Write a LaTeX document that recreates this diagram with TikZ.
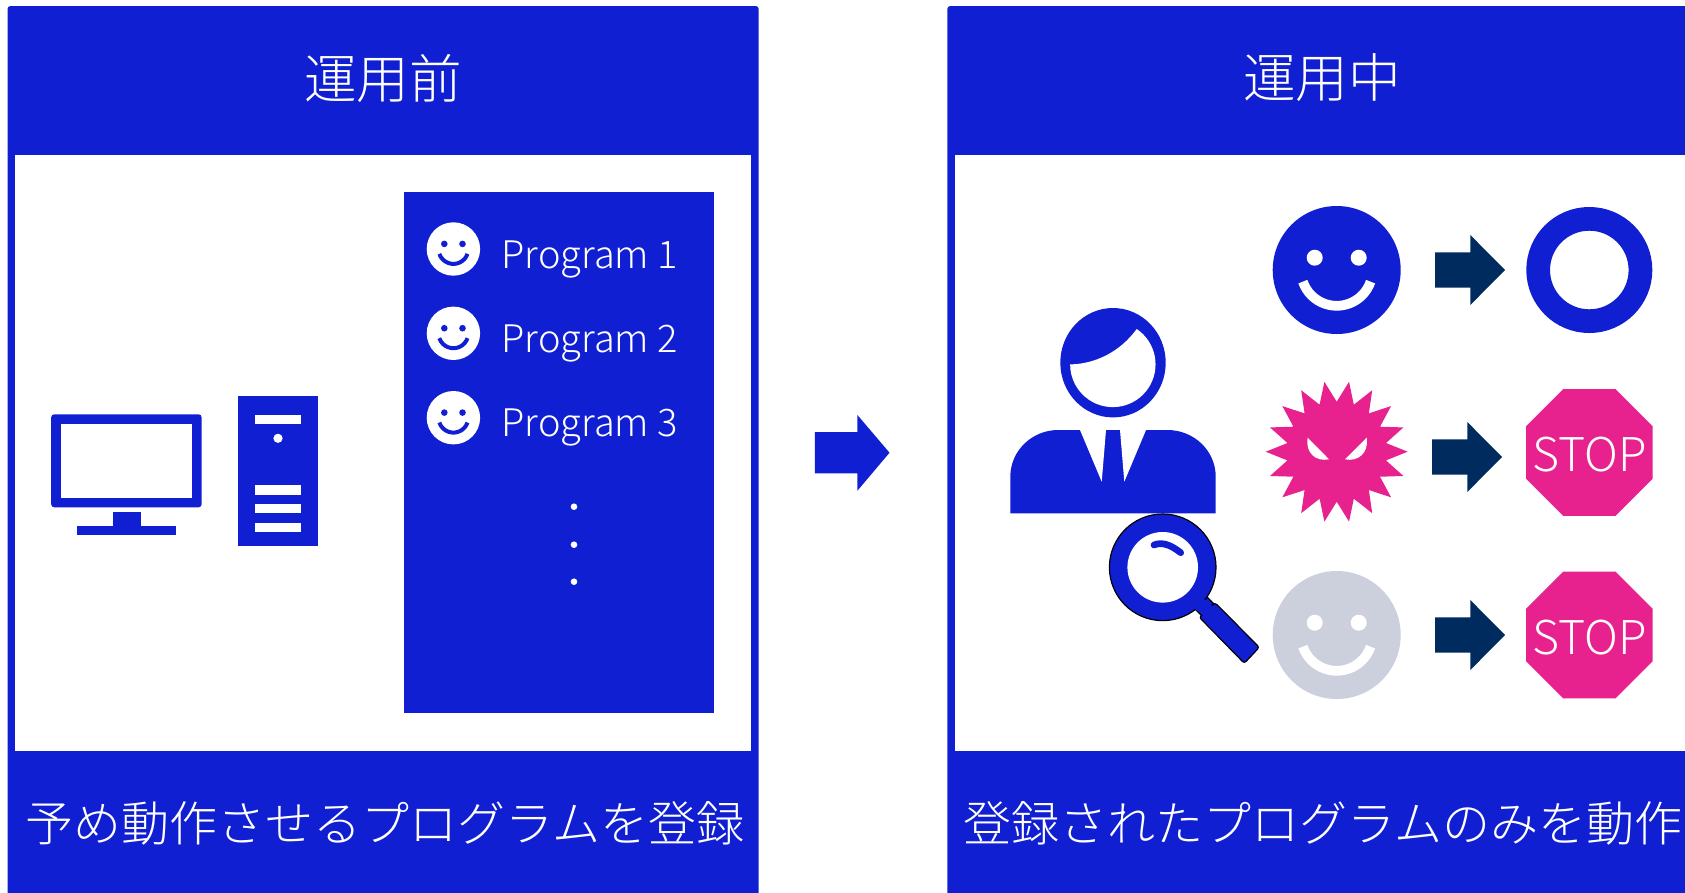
\documentclass[tikz,border=0pt]{standalone}
\usepackage{fontspec}
\usetikzlibrary{shapes.geometric}
\setmainfont{Noto Sans CJK JP Light}
\definecolor{panelblue}{HTML}{111FD2}
\definecolor{signpink}{HTML}{E7218D}
\definecolor{arrownavy}{HTML}{002B5E}
\definecolor{facegray}{HTML}{CBD0DC}
\tikzset{
    titletext/.style={text=white,font=\fontsize{52.6}{52.6}\selectfont,inner sep=0pt},
    foottext/.style={text=white,font=\fontsize{48}{48}\selectfont,inner sep=0pt},
    progtext/.style={text=white,font=\fontsize{38}{38}\selectfont,inner sep=0pt,anchor=base west},
    stopsign/.style={regular polygon,regular polygon sides=8,minimum size=137pt,inner sep=0pt,fill=signpink},
    stoptext/.style={text=white,font=\fontsize{46.5}{46.5}\selectfont,inner sep=0pt},
    lensline/.style={draw=black,fill=panelblue,line width=1.2pt}
}
\begin{document}
\begin{tikzpicture}[x=1pt,y=-1pt]
    \useasboundingbox (0,0) rectangle (1685,892);
    \clip (0,0) rectangle (1685,892);

    % panels
    \fill[panelblue,rounded corners=3pt] (7.5,6) rectangle (758.7,910);
    \fill[white] (15.4,154.5) rectangle (751,751);
    \fill[panelblue,rounded corners=3pt] (947.3,6) rectangle (1710,910);
    \fill[white] (955,154.5) rectangle (1700,751);
    \node[titletext] (titlebefore) at (383,78) {運用前};
    \node[titletext] (titleduring) at (1322,78) {運用中};
    \node[foottext] (footbefore) at (385,823) {予め動作させるプログラムを登録};
    \node[foottext] (footduring) at (1323,823) {登録されたプログラムのみを動作};

    % monitor
    \fill[panelblue,rounded corners=3pt] (51.2,414.3) rectangle (201.6,507.3);
    \fill[white] (61,424) rectangle (191.8,497.7);
    \fill[panelblue] (112.7,511.7) rectangle (140.6,526);
    \fill[panelblue] (76.8,526) rectangle (175.5,535.3);

    % tower
    \fill[panelblue] (237.9,396.3) rectangle (317.5,546.3);
    \fill[white] (254.7,415) rectangle (301.2,424.3);
    \fill[white] (278,438.3) circle (4.6pt);
    \fill[white] (254.7,485.3) rectangle (301.2,494.7);
    \fill[white] (254.7,504.3) rectangle (301.2,513.3);
    \fill[white] (254.7,523) rectangle (301.2,532.3);

    % program list
    \fill[panelblue] (403.6,191.7) rectangle (713.7,713.3);
    \foreach \i/\cy in {1/249,2/333.3,3/417.7} {
        \fill[white] (453.4,\cy) circle (26.7pt);
        \fill[panelblue] (444.3,\cy-5.1) circle (3.3pt);
        \fill[panelblue] (462.5,\cy-5.1) circle (3.3pt);
        \draw[panelblue,line width=4pt] (453.4,\cy) ++(-19:14.9pt) arc[start angle=-19,end angle=-161,radius=14.9pt];
        \node[progtext] (prog\i) at (501.5,\cy+19) {Program \i};
    }
    \fill[white] (574,506.7) circle (3.3pt);
    \fill[white] (574,544.7) circle (3.3pt);
    \fill[white] (574,581.7) circle (3.3pt);

    % arrow between panels
    \fill[panelblue] (814.9,432) -- (857.4,432) -- (857.4,415) -- (889.5,452.7) -- (857.4,490.7) -- (857.4,473.3) -- (814.9,473.3) -- cycle;

    % person
    \fill[panelblue] (1113,362.7) ellipse (52.7pt and 54.7pt);
    \fill[white] (1136.7,329) arc[start angle=56,end angle=-180,radius=42.7pt] .. controls (1095,364) and (1120,352) .. (1136.7,329);
    \fill[panelblue] (1010.3,513.3) -- (1010.3,476.7) .. controls (1010.3,450.9) and (1031.8,430) .. (1058.3,430) -- (1167.3,430) .. controls (1194.2,430) and (1215.7,450.9) .. (1215.7,476.7) -- (1215.7,513.3) -- cycle;
    \fill[white] (1080,430) -- (1101.7,481.7) -- (1106,430) -- cycle;
    \fill[white] (1120,430) -- (1124.3,481.7) -- (1146,430) -- cycle;

    % magnifier
    \draw[lensline] (1206,596) -- (1194,608) -- (1203,617) -- (1215,605) -- cycle;
    \draw[lensline,rounded corners=2.5pt] (1215,602.7) -- (1259.3,647.3) -- (1244.3,663.3) -- (1199.3,617.3) -- cycle;
    \draw[lensline] (1162.7,567.3) circle (53.3pt);
    \fill[panelblue] (1202.9,598.3) -- (1193.7,607.5) -- (1204.4,616.6) -- (1213.6,607.4) -- cycle;
    \fill[white] (1162.7,567.3) circle (35.3pt);
    \draw[panelblue,line width=6.7pt,line cap=round] (1154,545) .. controls (1162,541.5) and (1171,545) .. (1180.7,552.7);

    % faces
    \foreach \cy/\facecol in {270/panelblue,635/facegray} {
        \fill[\facecol] (1336.7,\cy) circle (64pt);
        \fill[white] (1314.7,\cy-12.3) circle (8pt);
        \fill[white] (1358.7,\cy-12.3) circle (8pt);
        \draw[white,line width=9.7pt] (1336.7,\cy) ++(-19:35.8pt) arc[start angle=-19,end angle=-161,radius=35.8pt];
    }

    % virus
    \fill[signpink,shift={(1336.7,451.7)}] (0:71pt) \foreach \a in {10,20,...,350} { -- (\a:{mod(\a,20)==0 ? 71pt : 50pt}) } -- cycle;
    \fill[white] (1307.7,437.7) -- (1329,459.3) .. controls (1316,462) and (1305,453) .. cycle;
    \fill[white] (1366.7,437.7) -- (1345,459.3) .. controls (1358,462) and (1369,453) .. cycle;

    % arrows
    \foreach \ax/\ay in {1435/270,1432/457,1435/635} {
        \fill[arrownavy] (\ax,\ay-17.7) -- (\ax+35.3,\ay-17.7) -- (\ax+35.3,\ay-35) -- (\ax+70,\ay) -- (\ax+35.3,\ay+35) -- (\ax+35.3,\ay+17.7) -- (\ax,\ay+17.7) -- cycle;
    }

    % results
    \draw[panelblue,line width=23.7pt] (1589.3,270) circle (51.15pt);
    \node[stopsign] (stopvirus) at (1589.3,452.5) {};
    \node[stoptext] (stopvirustext) at (1589.3,455) {STOP};
    \node[stopsign] (stopgray) at (1589.3,635) {};
    \node[stoptext] (stopgraytext) at (1589.3,637.5) {STOP};
\end{tikzpicture}
\end{document}
